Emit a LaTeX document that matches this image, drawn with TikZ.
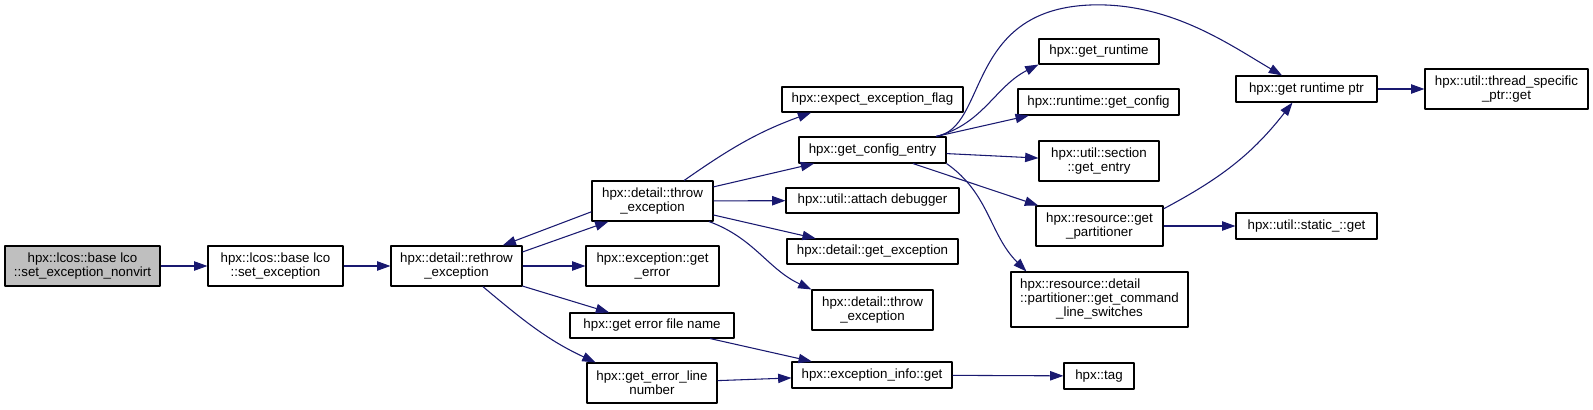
\documentclass[tikz,border=0pt]{standalone}
\usepackage{fontspec}
\setmainfont{Liberation Sans}
\usepackage{tikz}
\usetikzlibrary{arrows.meta}
\definecolor{callblue}{HTML}{191970}
\definecolor{nodegray}{HTML}{BFBFBF}

\begin{document}
\begin{tikzpicture}[x=0.75pt, y=0.75pt, line join=round,
    fn/.style 2 args={draw=black, line width=0.8pt, fill=white, inner sep=0pt,
        minimum width=#1*0.75pt, minimum height=#2*0.75pt, align=center,
        font=\fontsize{10}{10.5}\selectfont},
    call/.style={draw=callblue, line width=0.8pt, -{Triangle[length=10pt, width=7pt]}}]
    \useasboundingbox (0,0) rectangle (1593,-410);
    % callers
    \node[fn={155}{40}, fill=nodegray] (nonvirt) at (82.5,-266) {hpx::lcos::base lco\\::set\_exception\_nonvirt};
    \node[fn={135}{40}] (setexc) at (275.5,-266) {hpx::lcos::base lco\\::set\_exception};
    \node[fn={131}{40}] (rethrow) at (456.5,-266) {hpx::detail::rethrow\\\_exception};
    % second column
    \node[fn={121}{40}] (throwexc) at (652.5,-201) {hpx::detail::throw\\\_exception};
    \node[fn={133}{40}] (geterror) at (652.5,-266) {hpx::exception::get\\\_error};
    \node[fn={164}{25}] (filename) at (652,-325.5) {hpx::get error file name};
    \node[fn={130}{40}] (linenum) at (652,-383) {hpx::get\_error\_line\\number};
    % third column
    \node[fn={181}{25}] (expectflag) at (872.5,-99.5) {hpx::expect\_exception\_flag};
    \node[fn={147}{26}] (configentry) at (872.5,-150) {hpx::get\_config\_entry};
    \node[fn={173}{25}] (attach) at (872.5,-200.5) {hpx::util::attach debugger};
    \node[fn={171}{25}] (getexc) at (872.5,-251.5) {hpx::detail::get\_exception};
    \node[fn={121}{40}] (throwexc2) at (872.5,-310) {hpx::detail::throw\\\_exception};
    \node[fn={160}{26}] (excinfo) at (872,-375) {hpx::exception\_info::get};
    % fourth column
    \node[fn={120}{25}] (getruntime) at (1099,-51.5) {hpx::get\_runtime};
    \node[fn={161}{26}] (getconfig) at (1098.5,-102) {hpx::runtime::get\_config};
    \node[fn={120}{40}] (getentry) at (1099,-161) {hpx::util::section\\::get\_entry};
    \node[fn={127}{40}] (partitioner) at (1099.5,-226) {hpx::resource::get\\\_partitioner};
    \node[fn={177}{55}] (cmdline) at (1099.5,-299.5) {\begin{tabular}{@{}l@{}}hpx::resource::detail\\::partitioner::get\_command\\\multicolumn{1}{@{}c@{}}{\_line\_switches}\end{tabular}};
    \node[fn={70}{26}] (tag) at (1099,-376) {hpx::tag};
    % last columns
    \node[fn={141}{26}] (runtimeptr) at (1306.5,-89) {hpx::get runtime ptr};
    \node[fn={141}{26}] (staticget) at (1306.5,-226) {hpx::util::static\_::get};
    \node[fn={163}{40}] (threadspec) at (1506.5,-89) {hpx::util::thread\_specific\\\_ptr::get};
    % calls
    \draw[call] (nonvirt) -- (setexc);
    \draw[call] (setexc) -- (rethrow);
    \draw[call] (rethrow.12) -- (throwexc.205);
    \draw[call] (throwexc.190) -- (rethrow.24);
    \draw[call] (rethrow) -- (geterror);
    \draw[call] (rethrow) -- (filename);
    \draw[call] (rethrow.-38) to[out=-40, in=155] (linenum.160);
    \draw[call] (throwexc.33) to[out=35, in=200] (expectflag.192);
    \draw[call] (throwexc) -- (configentry);
    \draw[call] (throwexc) -- (attach);
    \draw[call] (throwexc) -- (getexc);
    \draw[call] (throwexc.-20) to[out=-20, in=155] (throwexc2.north west);
    \draw[call] (filename) -- (excinfo);
    \draw[call] (linenum) -- (excinfo);
    \draw[call] (excinfo) -- (tag);
    \draw[call] (configentry.12) .. controls (988,-128) and (965,-10) .. (1090,-5)
        .. controls (1170,-2) and (1230,-45) .. (runtimeptr.151);
    \draw[call] (configentry.12) to[out=15, in=207] (getruntime.south west);
    \draw[call] (configentry.12) -- (getconfig.191);
    \draw[call] (configentry) -- (getentry);
    \draw[call] (configentry) -- (partitioner);
    \draw[call] (configentry.south east) to[out=-35, in=135] (cmdline.159);
    \draw[call] (partitioner.15) to[out=28, in=-128] (runtimeptr.224);
    \draw[call] (partitioner) -- (staticget);
    \draw[call] (runtimeptr) -- (threadspec);
\end{tikzpicture}
\end{document}
